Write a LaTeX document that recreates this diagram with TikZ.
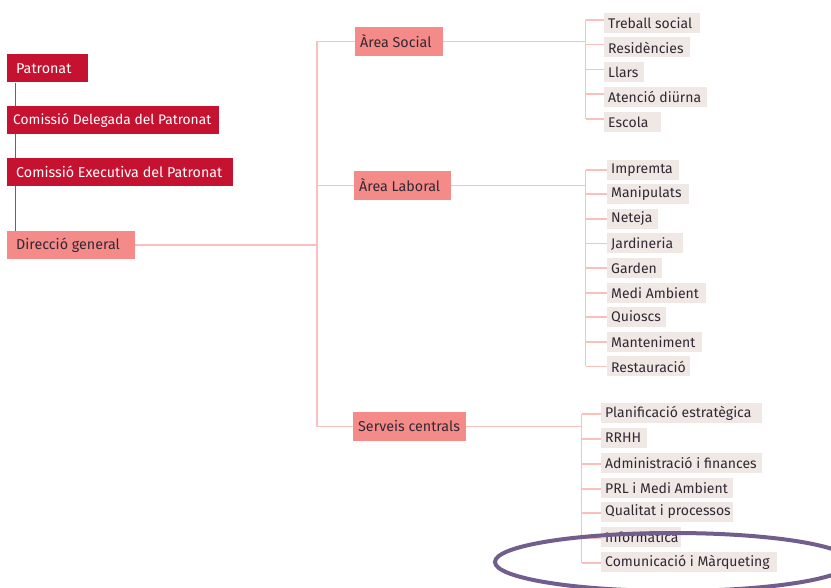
\documentclass[tikz,border=0pt]{standalone}
\usepackage{fontspec}
\setmainfont{Fira Sans}
\definecolor{crim}{RGB}{196,18,48}
\definecolor{salmon}{RGB}{244,139,136}
\definecolor{leafbg}{RGB}{240,232,228}
\definecolor{pinkline}{RGB}{250,192,192}
\definecolor{txt}{RGB}{50,40,52}
\definecolor{ovalc}{RGB}{114,94,140}
\pgfdeclarelayer{bg}
\pgfsetlayers{bg,main}
\newcommand\lb[2]{\makebox[#1pt][l]{#2}}
\begin{document}
\begin{tikzpicture}[x=1pt,y=-1pt,
  box/.style={anchor=west, inner ysep=0pt, font=\fontsize{14}{16}\selectfont},
  topbox/.style={box, fill=crim, text=white, minimum height=28pt, inner xsep=9pt, font=\fontsize{14.3}{16}\selectfont},
  midbox/.style={box, fill=salmon, text=txt, minimum height=29pt, inner xsep=5pt, font=\fontsize{14.3}{16}\selectfont},
  leaf/.style={box, fill=leafbg, text=txt, minimum height=20pt, inner xsep=4pt},
  conn/.style={draw=pinkline, line width=1.2pt},
  crimline/.style={draw=crim!85, line width=0.9pt},
  oval/.style={draw=ovalc, line width=4pt}
]
\useasboundingbox (0,0) rectangle (831,588);
\clip (0,0) rectangle (831,588);

% coordinates for trunks
\coordinate (t1) at (317,0);
\coordinate (s1) at (585.7,0);
\coordinate (s2) at (585.7,0);
\coordinate (s3) at (581.5,0);

% left column
\node[topbox] (P) at (7,68.5) {\lb{63}{Patronat}};
\node[topbox, inner xsep=6pt, font=\fontsize{13.8}{16}\selectfont] (CD) at (7,120) {\lb{200}{Comissió Delegada del Patronat}};
\node[topbox] (CE) at (7,172) {\lb{208}{Comissió Executiva del Patronat}};
\node[midbox, inner xsep=9pt, minimum height=28pt] (DG) at (7,245) {\lb{110}{Direcció general}};

% middle column
\node[midbox] (AS) at (355,41.5) {\lb{78}{Àrea Social}};
\node[midbox] (AL) at (354,185.5) {\lb{87}{Àrea Laboral}};
\node[midbox] (SC) at (353,426.5) {\lb{103}{Serveis centrals}};

% social leaves
\node[leaf] (a1) at (604,23) {\lb{88}{Treball social}};
\node[leaf] (a2) at (604,47.5) {\lb{78}{Residències}};
\node[leaf] (a3) at (604,72.5) {\lb{32}{Llars}};
\node[leaf] (a4) at (604,97) {\lb{95}{Atenció diürna}};
\node[leaf] (a5) at (604,122) {\lb{49}{Escola}};

% laboral leaves
\node[leaf] (b1) at (607,170) {\lb{64}{Impremta}};
\node[leaf] (b2) at (607,194) {\lb{74}{Manipulats}};
\node[leaf] (b3) at (607,219) {\lb{43}{Neteja}};
\node[leaf] (b4) at (607,243.5) {\lb{68}{Jardineria}};
\node[leaf] (b5) at (607,268) {\lb{47}{Garden}};
\node[leaf] (b6) at (607,293) {\lb{91}{Medi Ambient}};
\node[leaf] (b7) at (607,317) {\lb{51}{Quioscs}};
\node[leaf] (b8) at (607,342) {\lb{87}{Manteniment}};
\node[leaf] (b9) at (607,366.5) {\lb{75}{Restauració}};

% serveis leaves
\node[leaf] (c1) at (601,413) {\lb{153}{Planificació estratègica}};
\node[leaf] (c2) at (601,438) {\lb{38}{RRHH}};
\node[leaf] (c3) at (601,463) {\lb{153}{Administració i finances}};
\node[leaf] (c4) at (601,488) {\lb{124}{PRL i Medi Ambient}};
\node[leaf] (c5) at (601,512) {\lb{124}{Qualitat i processos}};
\node[leaf] (c6) at (601,537) {\lb{72}{Informàtica}};
\node[leaf] (c7) at (601,562) {\lb{168}{Comunicació i Màrqueting}};

% connectors
\begin{pgfonlayer}{bg}
\fill[white] (0,0) rectangle (831,588);
\draw[crimline] ([xshift=8.7pt]P.south west) -- ([xshift=8.7pt]DG.north west);
\draw[conn] (AS.west -| t1) -- (SC.west -| t1);
\draw[conn] (DG.east) -- (DG.east -| t1);
\foreach \n in {AS,AL,SC} \draw[conn] (\n.west -| t1) -- (\n.west);

\draw[conn] ([yshift=3pt]a1.west -| s1) -- ([yshift=3pt]a5.west -| s1);
\draw[conn] (AS.east) -- (AS.east -| s1);
\foreach \n in {a1,a2,a3,a4,a5} \draw[conn] ([yshift=3pt]\n.west -| s1) -- ([yshift=3pt]\n.west);

\draw[conn] (b1.west -| s2) -- (b9.west -| s2);
\draw[conn] (AL.east) -- (AL.east -| s2);
\foreach \n in {b1,b2,b3,b4,b5,b6,b7,b8,b9} \draw[conn] (\n.west -| s2) -- (\n.west);

\draw[conn] ([yshift=-1pt]c1.west -| s3) -- ([yshift=-1pt]c7.west -| s3);
\draw[conn] (SC.east) -- (SC.east -| s3);
\foreach \n in {c1,c2,c3,c4,c5,c6,c7} \draw[conn] ([yshift=-1pt]\n.west -| s3) -- ([yshift=-1pt]\n.west);
\end{pgfonlayer}

% highlight oval
\draw[oval] (673,562) ellipse (178 and 29);
\end{tikzpicture}
\end{document}
